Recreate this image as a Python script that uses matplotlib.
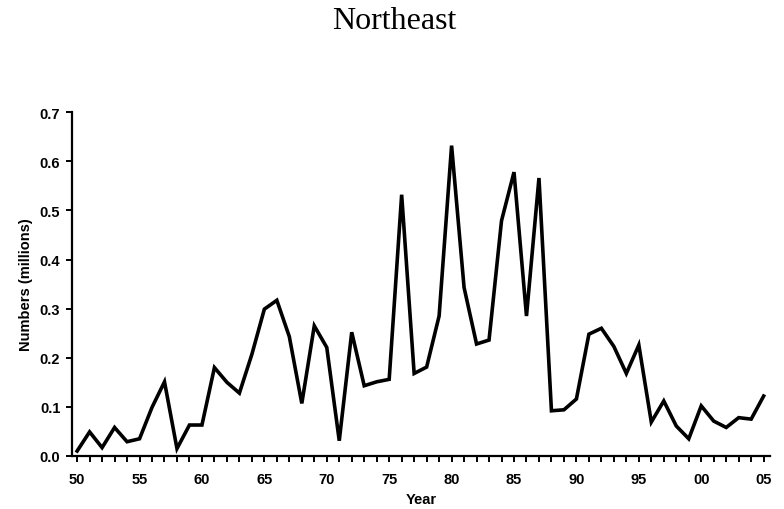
import matplotlib
matplotlib.use("Agg")
import matplotlib.pyplot as plt
from matplotlib.ticker import MultipleLocator, FuncFormatter

# data
years = list(range(1950, 2006))
numbers = [0.010, 0.049, 0.017, 0.058, 0.029, 0.035, 0.099, 0.151, 0.015, 0.063,
           0.063, 0.180, 0.150, 0.128, 0.207, 0.299, 0.317, 0.243, 0.107, 0.265,
           0.221, 0.031, 0.252, 0.143, 0.151, 0.156, 0.532, 0.168, 0.181, 0.285,
           0.632, 0.343, 0.228, 0.236, 0.479, 0.578, 0.285, 0.566, 0.092, 0.094,
           0.116, 0.248, 0.260, 0.223, 0.168, 0.226, 0.069, 0.112, 0.061, 0.035,
           0.102, 0.071, 0.058, 0.078, 0.075, 0.122]
title = "Northeast"

fig = plt.figure(figsize=(7.84, 5.10), dpi=100)
ax = fig.add_axes([0.092, 0.104, 0.890, 0.674])

ax.plot(years, numbers, color="black", lw=2.6, solid_joinstyle="miter")

ax.set_xlim(1949.6, 2005.5)
ax.set_ylim(0, 0.7)
ax.xaxis.set_major_locator(MultipleLocator(5))
ax.xaxis.set_minor_locator(MultipleLocator(1))
ax.xaxis.set_major_formatter(FuncFormatter(lambda v, p: "%02d" % (int(round(v)) % 100)))
ax.yaxis.set_major_locator(MultipleLocator(0.1))
ax.yaxis.set_major_formatter(FuncFormatter(lambda v, p: "%.1f" % v))

for s in ["top", "right"]:
    ax.spines[s].set_visible(False)
for s in ["left", "bottom"]:
    ax.spines[s].set_linewidth(1.6)

ax.tick_params(axis="x", which="both", direction="out", length=4.5, width=1.4, pad=7)
ax.tick_params(axis="y", direction="out", length=4, width=1.4, pad=4.5)
for lab in ax.get_xticklabels() + ax.get_yticklabels():
    lab.set_fontfamily("Liberation Sans")
    lab.set_fontweight("bold")
    lab.set_fontsize(10.5)

ax.set_xlabel("Year", fontfamily="Liberation Sans", fontweight="bold", fontsize=10.5, labelpad=4.5)
ax.set_ylabel("Numbers (millions)", fontfamily="Liberation Sans", fontweight="bold", fontsize=10.5, labelpad=4.5)

fig.text(0.5026, 0.957, title, ha="center", va="center", fontfamily="Liberation Serif", fontsize=23)

fig.savefig("out.png", dpi=100)
